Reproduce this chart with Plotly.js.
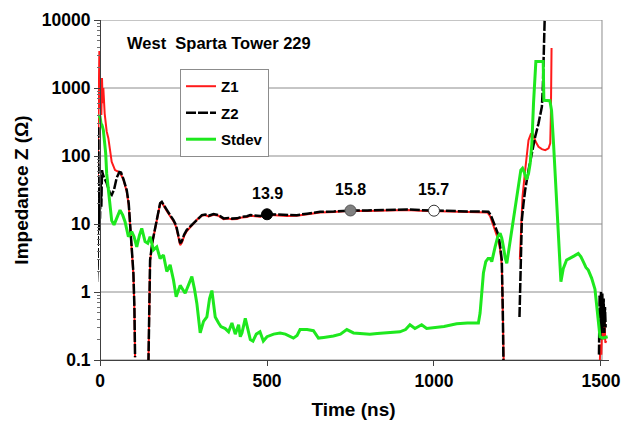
<!DOCTYPE html>
<html>
<head>
<meta charset="utf-8">
<script src="https://cdn.plot.ly/plotly-3.0.1.min.js"></script>
<style>
  html, body { margin: 0; padding: 0; background: #ffffff; }
  #chart { width: 623px; height: 423px; }
</style>
</head>
<body>
<div id="chart"></div>
<script>
// Impedance profile (log scale) of the two measurements and their spread.
// null entries are points with no positive value, left as gaps on the log axis.

const z1Time = [-7, -5, -4, -2, 0, 2, 4, 6, 8, 10, 14, 20, 25, 30, 35, 45, 55, 60, 70, 80, 86, 90, 95, 100, 103, 105, null,
  145, 147, 150, 157, 165, 172, 180, 185, 192, 200, 210, 220, 228, 235, 240, 245, 252, 260, 270, 280, 292, 305, 315, 325, 340, 355, 370, 385, 395, 410, 425, 440, 450, 465, 480, 500, 520, 540, 560, 589, 620, 659, 700, 750, 800, 850, 918, 960, 1000, 1050, 1100, 1140, 1160, 1168, 1176, 1184, 1192, 1198, 1203, 1206, 1209, null,
  1257, 1260, 1265, 1273, 1283, 1290, 1295, 1300, 1305, 1313, 1323, 1333, 1343, 1348, 1350, 1352, null,
  1496, 1498, 1501, 1504, 1507, 1510, 1513, 1516];
const z1Values = [38, 260, 120, 3500, 500, 1000, 400, 1400, 600, 1000, 420, 230, 183, 110, 82, 62, 59, 57, 45, 30, 19, 10, 4.4, 1.8, 0.55, 0.11, null,
  0.09, 0.5, 2.9, 5.4, 8.9, 13.6, 19.8, 20.8, 18.5, 15.6, 13.0, 11.0, 9.0, 6.1, 4.9, 5.3, 6.7, 7.9, 9.0, 10.0, 11.8, 13.2, 13.5, 12.9, 13.7, 13.2, 11.8, 12.0, 11.7, 11.8, 12.5, 12.7, 13.2, 13.0, 12.8, 13.7, 13.5, 13.3, 13.1, 13.2, 13.9, 14.8, 15.0, 15.6, 15.5, 15.7, 16.1, 15.7, 15.5, 15.1, 15.0, 15.0, 14.8, 13.0, 10.0, 8.0, 6.0, 4.2, 2.5, 0.5, 0.08, null,
  3.0, 9.0, 25, 62, 171, 210, 215, 185, 160, 137, 126, 122, 130, 153, 400, 3860, null,
  0.07, 0.17, 0.12, 0.4, 0.2, 0.5, 0.18, 0.19];

const z2Time = [-9, -7, -6, -5, -4, -3, -2, 0, 2, 4, 6, 8, 12, 20, 30, 35, 42, 50, 58, 63, 70, 80, 86, 90, 95, 100, 103, 105, null,
  145, 147, 150, 157, 165, 172, 180, 185, 192, 200, 210, 220, 228, 235, 240, 245, 252, 260, 270, 280, 292, 305, 315, 325, 340, 355, 370, 385, 395, 410, 425, 440, 450, 465, 480, 500, 520, 540, 560, 589, 620, 659, 700, 750, 800, 850, 918, 960, 1000, 1050, 1100, 1140, 1163, 1170, 1178, 1185, 1193, 1198, 1203, 1206, 1208, null,
  1256, 1258, 1260, 1263, 1268, 1273, 1283, 1293, 1303, 1313, 1323, 1326, 1329, 1331, 1333, null,
  1494, 1496, 1498, 1500, 1502, 1504, 1506, 1508, 1510, 1512, 1514];
const z2Values = [1.4, 2.5, 30, 270, 20, 8, 25, 12, 40, 18, 62, 55, 48, 40, 28, 26.7, 32, 48, 58, 57, 46, 31.6, 20, 10.3, 4.5, 1.9, 0.6, 0.11, null,
  0.09, 0.5, 2.95, 5.5, 9.1, 14, 20.3, 21.2, 19, 16.1, 13.5, 11.4, 9.5, 6.5, 5.2, 5.6, 7.0, 8.2, 9.2, 10.2, 12.0, 13.5, 13.8, 13.2, 14.0, 13.5, 12.1, 12.3, 12.0, 12.1, 12.8, 13.0, 13.5, 13.3, 13.1, 13.9, 13.8, 13.6, 13.4, 13.5, 14.2, 15.1, 15.3, 15.8, 15.8, 16.0, 16.4, 16.0, 15.7, 15.4, 15.3, 15.3, 15.2, 13.5, 10.8, 8.8, 6.9, 4.8, 2.95, 0.54, 0.09, null,
  0.43, 1.5, 5.0, 11.4, 20, 31.6, 62, 110, 192, 302, 530, 1040, 3200, 10000, 20000, null,
  0.12, 0.9, 0.2, 1.0, 0.25, 0.95, 0.3, 0.8, 0.25, 0.6, 0.3];

const stdevTime = [-12, -6, 0, 3, 6, 10, 14, 17, 20, 25, 30, 35, 42, 50, 60, 68, 75, 85, 95, 102, 110, 118, 125, 135, 143, 150, 155, 160, 170, 180, 190, 200, 210, 220, 228, 240, 255, 265, 275, 283, 290, 300, 310, 320, 328, 335, 340, 345, 355, 362, 375, 385, 395, 405, 415, 420, 425, 435, 443, 450, 458, 468, 479, 489, 500, 509, 520, 539, 555, 579, 590, 599, 620, 639, 654, 670, 699, 720, 739, 759, 780, 808, 830, 848, 870, 898, 915, 928, 943, 963, 978, 1000, 1030, 1068, 1100, 1133, 1138, 1143, 1148, 1155, 1162, 1168, 1173, 1183, 1191, 1198, 1203, 1208, 1213, 1218, 1225, 1233, 1240, 1248, 1255, 1260, 1265, 1270, 1277, 1283, 1288, 1293, 1298, 1303, 1305, 1327, 1329, 1347, 1352, 1358, 1364, 1370, 1376, 1380, 1387, 1397, 1405, 1412, 1420, 1432, 1440, 1447, 1455, 1462, 1472, 1482, 1490, 1497, 1505, 1520];
const stdevValues = [400, 390, 380, 300, 285, 240, 150, 110, 55, 30, 16, 11.2, 9.7, 12, 16, 13.5, 10.8, 6.5, 7.7, 6.5, 4.6, 6.8, 8.6, 5.5, 5.2, 6.5, 5.4, 4.15, 4.6, 3.1, 3.5, 2.0, 2.5, 1.5, 0.85, 1.25, 0.96, 1.3, 1.68, 1.1, 0.68, 0.25, 0.37, 0.43, 0.8, 1.05, 0.7, 0.43, 0.35, 0.31, 0.29, 0.26, 0.35, 0.24, 0.33, 0.22, 0.25, 0.41, 0.28, 0.2, 0.19, 0.24, 0.26, 0.19, 0.22, 0.23, 0.24, 0.25, 0.24, 0.21, 0.23, 0.28, 0.28, 0.27, 0.21, 0.215, 0.225, 0.24, 0.28, 0.25, 0.245, 0.24, 0.245, 0.25, 0.25, 0.26, 0.28, 0.33, 0.29, 0.33, 0.29, 0.3, 0.31, 0.34, 0.35, 0.35, 0.49, 0.96, 1.9, 2.8, 3.1, 3.1, 2.8, 4.6, 6.5, 7.3, 6.2, 4.6, 3.2, 2.64, 4.5, 9.1, 15, 28.3, 50, 62, 66, 58, 45, 55, 78, 150, 600, 1840, 2450, 2450, 660, 650, 470, 150, 40, 11, 3, 1.42, 2.2, 2.95, 3.1, 3.2, 3.4, 3.7, 3.3, 2.8, 2.3, 2.1, 1.6, 1.1, 0.5, 0.22, 0.21, 0.22];

// Mean impedance at three sampled times along the tower section
const sampleTime = [500, 750, 1000];
const sampleZ = [13.9, 15.8, 15.7];
const sampleFill = ['#000000', '#808080', '#ffffff'];
const sampleEdge = ['#000000', '#555555', '#333333'];

const yTickVals = [0.1, 1, 10, 100, 1000, 10000];
const yTickText = ['0.1', '1', '10', '100', '1000', '10000'];
const xTickVals = [0, 500, 1000, 1500];
const xTickText = ['0', '500', '1000', '1500'];

const chartTitle = 'West  Sparta Tower 229';

const FONT = 'Arial, "Liberation Sans", sans-serif';
const xRange = [-6, 1524];
const frameRight = 1503;

// Minor log ticks (2..9 of each decade)
const minorVals = [];
for (let d = -1; d < 4; d++) {
  for (let k = 2; k <= 9; k++) minorVals.push(k * Math.pow(10, d));
}

const traces = [
  {
    x: z1Time, y: z1Values, name: 'Z1', type: 'scatter', mode: 'lines',
    legendgroup: 'a', connectgaps: false,
    line: { color: '#ff1a1a', width: 2 }
  },
  {
    x: z2Time, y: z2Values, name: 'Z2', type: 'scatter', mode: 'lines',
    legendgroup: 'b', connectgaps: false,
    line: { color: '#000000', width: 2.5, dash: '10px,2px' }
  },
  {
    x: stdevTime, y: stdevValues, name: 'Stdev', type: 'scatter', mode: 'lines',
    legendgroup: 'c', connectgaps: false,
    line: { color: '#1ee81e', width: 3 }
  },
  {
    x: sampleTime, y: sampleZ, type: 'scatter', mode: 'markers', showlegend: false,
    marker: { size: 11, color: sampleFill, line: { color: sampleEdge, width: 1 } },
    hoverinfo: 'skip'
  }
];

// Gridlines and right border of the plot box (shape coordinates are data values)
const shapes = [];
yTickVals.forEach(v => {
  shapes.push({
    type: 'line', xref: 'x', yref: 'y', layer: 'below',
    x0: 0, x1: frameRight, y0: v, y1: v,
    line: { color: '#8c8c8c', width: 1 }
  });
});
shapes.push({
  type: 'line', xref: 'x', yref: 'y', layer: 'below',
  x0: frameRight, x1: frameRight, y0: yTickVals[0], y1: yTickVals[yTickVals.length - 1],
  line: { color: '#8c8c8c', width: 1 }
});

const annotations = [
  {
    text: '<b>' + chartTitle + '</b>', xref: 'paper', yref: 'paper',
    x: 0.053, y: 0.932, xanchor: 'left', yanchor: 'middle', showarrow: false,
    font: { family: FONT, size: 16.5, color: '#000' }
  }
];
sampleTime.forEach((t, i) => {
  annotations.push({
    text: '<b>' + sampleZ[i].toFixed(1) + '</b>', xref: 'x', yref: 'y',
    x: t, y: Math.log10(sampleZ[i]), yshift: 21, showarrow: false,
    xanchor: 'center', yanchor: 'middle',
    font: { family: FONT, size: 16, color: '#000' }
  });
});

const layout = {
  width: 623, height: 423,
  margin: { l: 98, r: 14, t: 20, b: 63 },
  paper_bgcolor: '#ffffff', plot_bgcolor: '#ffffff',
  font: { family: FONT, color: '#000' },
  showlegend: true,
  legend: {
    x: 0.1605, y: 0.856, xanchor: 'left', yanchor: 'top',
    bgcolor: '#ffffff', bordercolor: '#8c8c8c', borderwidth: 1,
    font: { family: FONT, size: 15, color: '#000', weight: 'bold' },
    traceorder: 'grouped', tracegroupgap: 4, itemwidth: 30
  },
  xaxis: {
    range: xRange, showgrid: false, zeroline: false,
    showline: true, linecolor: '#404040', linewidth: 1,
    tickmode: 'array', tickvals: xTickVals, ticktext: xTickText,
    ticks: 'outside', ticklen: 5, tickcolor: '#404040',
    tickfont: { family: FONT, size: 17.5, weight: 'bold' },
    title: { text: '<b>Time (ns)</b>', font: { family: FONT, size: 19 }, standoff: 12 }
  },
  yaxis: {
    type: 'log', range: [-1, 4],
    anchor: 'free', position: (0 - xRange[0]) / (xRange[1] - xRange[0]),
    showgrid: false, zeroline: false,
    showline: true, linecolor: '#404040', linewidth: 1,
    tickmode: 'array', tickvals: yTickVals, ticktext: yTickText,
    ticks: 'outside', ticklen: 6, tickcolor: '#404040',
    minor: { tickmode: 'array', tickvals: minorVals, ticks: 'outside', ticklen: 3, tickcolor: '#707070', showgrid: false },
    tickfont: { family: FONT, size: 17.5, weight: 'bold' },
    title: { text: '<b>Impedance Z (Ω)</b>', font: { family: FONT, size: 19 }, standoff: 7 }
  },
  shapes: shapes,
  annotations: annotations
};

Plotly.newPlot('chart', traces, layout, { displayModeBar: false, staticPlot: true });
</script>
</body>
</html>
